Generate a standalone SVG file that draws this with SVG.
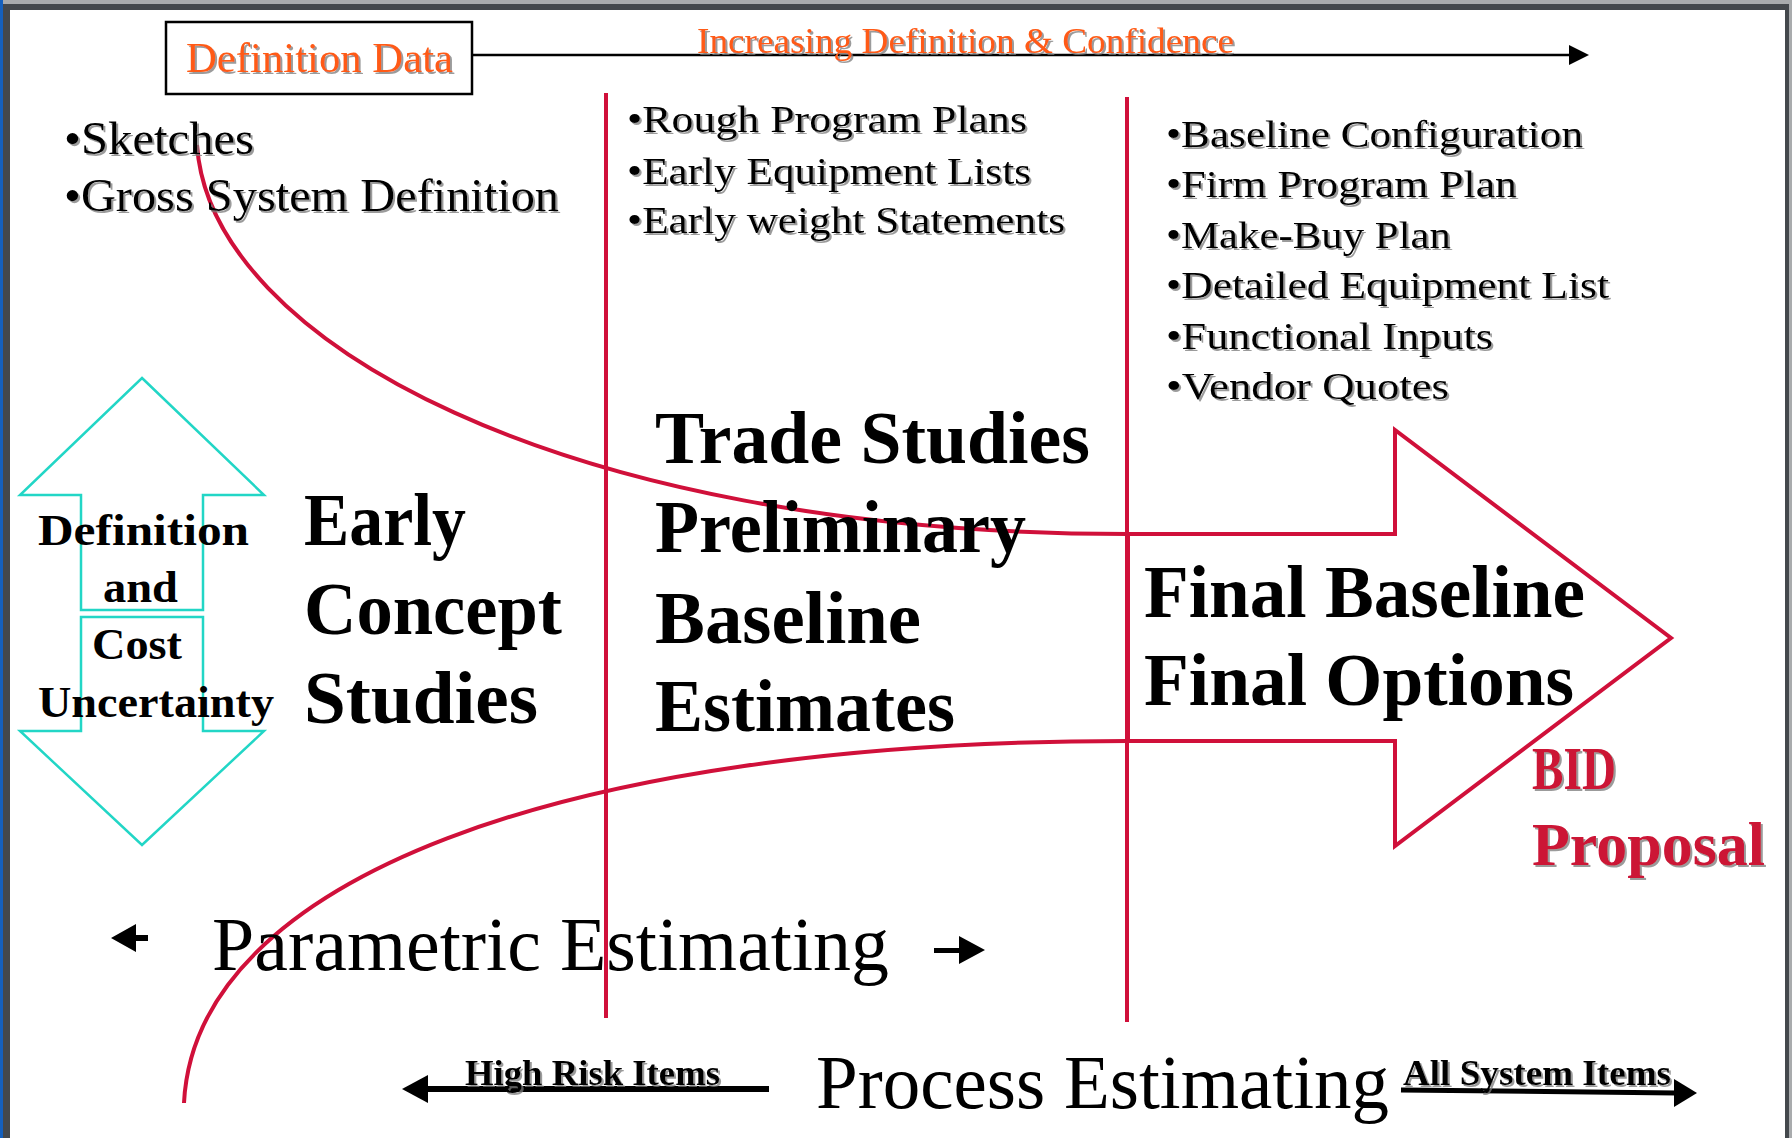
<svg xmlns="http://www.w3.org/2000/svg" width="1792" height="1138" viewBox="0 0 1792 1138">
<defs>
<filter id="sh" x="-5%" y="-20%" width="110%" height="150%"><feDropShadow dx="2" dy="2" stdDeviation="0.6" flood-color="#7a7a7a" flood-opacity="0.75"/></filter>
</defs>
<style>
text{font-family:"Liberation Serif","Times New Roman",serif;fill:#000}
.b{font-weight:bold}
.org{fill:#ff5a14}
.bid{fill:#cc1236;font-weight:bold}
.red{fill:none;stroke:#d0103a;stroke-width:4}
.cy{fill:none;stroke:#22d6c6;stroke-width:2.5}
.blk{fill:#000}
.lst{font-size:37px}
.big{font-size:73px;font-weight:bold}
</style>
<rect x="0" y="0" width="1792" height="1138" fill="#fff"/>
<g id="frame">
<rect x="0" y="0" width="1792" height="4" fill="#a9abad"/>
<rect x="3" y="4" width="1786" height="6" fill="#44484c"/>
<rect x="0" y="0" width="3" height="1138" fill="#1560bd"/>
<rect x="3" y="4" width="7" height="1134" fill="#44484c"/>
<rect x="1785" y="4" width="4" height="1134" fill="#44484c"/>
<rect x="1789" y="0" width="3" height="1138" fill="#a9abad"/>
</g>
<g id="connectors">
<line x1="472" y1="55" x2="1572" y2="55" stroke="#000" stroke-width="2.5"/>
<polygon class="blk" points="1589,55 1569,45 1569,65"/>
<line class="red" x1="606" y1="93" x2="606" y2="1018"/>
<line class="red" x1="1127" y1="97" x2="1127" y2="1022"/>
<path class="red" d="M197,145 C210,340 560,534 1128,534"/>
<path class="red" d="M184,1103 C195,880 560,741 1128,741"/>
<polygon class="blk" points="111,938 136,924 136,935 148,935 148,941 136,941 136,952"/>
<polygon class="blk" points="985,950 959,936 959,948 934,948 934,953 959,953 959,964"/>
<line x1="769" y1="1089" x2="425" y2="1089" stroke="#000" stroke-width="6"/>
<polygon class="blk" points="402,1089 428,1075 428,1103"/>
<line x1="1401" y1="1090" x2="1676" y2="1093" stroke="#000" stroke-width="5"/>
<polygon class="blk" points="1697,1093 1674,1079 1674,1107"/>
</g>
<g id="definition-data">
<rect x="166" y="22" width="306" height="72" fill="#fff" stroke="#000" stroke-width="2.5"/>
<text class="org" x="186" y="72" font-size="42" textLength="267" lengthAdjust="spacingAndGlyphs" filter="url(#sh)">Definition Data</text>
</g>
<g id="increasing-label">
<text class="org" x="697" y="53" font-size="35" textLength="537" lengthAdjust="spacingAndGlyphs" filter="url(#sh)">Increasing Definition &amp; Confidence</text>
</g>
<g id="list-early" filter="url(#sh)">
<text x="64" y="154" font-size="46" textLength="190" lengthAdjust="spacingAndGlyphs">•Sketches</text>
<text x="64" y="211" font-size="46" textLength="495" lengthAdjust="spacingAndGlyphs">•Gross System Definition</text>
</g>
<g id="list-mid" class="lst" filter="url(#sh)">
<text x="627" y="132" textLength="400" lengthAdjust="spacingAndGlyphs">•Rough Program Plans</text>
<text x="627" y="184" textLength="404" lengthAdjust="spacingAndGlyphs">•Early Equipment Lists</text>
<text x="627" y="233" textLength="438" lengthAdjust="spacingAndGlyphs">•Early weight Statements</text>
</g>
<g id="list-final" class="lst" filter="url(#sh)">
<text x="1166" y="147" textLength="417" lengthAdjust="spacingAndGlyphs">•Baseline Configuration</text>
<text x="1166" y="197" textLength="351" lengthAdjust="spacingAndGlyphs">•Firm Program Plan</text>
<text x="1166" y="248" textLength="285" lengthAdjust="spacingAndGlyphs">•Make-Buy Plan</text>
<text x="1166" y="298" textLength="443" lengthAdjust="spacingAndGlyphs">•Detailed Equipment List</text>
<text x="1166" y="349" textLength="327" lengthAdjust="spacingAndGlyphs">•Functional Inputs</text>
<text x="1166" y="399" textLength="283" lengthAdjust="spacingAndGlyphs">•Vendor Quotes</text>
</g>
<g id="uncertainty-arrow">
<polygon class="cy" points="142,378 264,495 203,495 203,610 81,610 81,495 20,495"/>
<polygon class="cy" points="81,617 203,617 203,731 264,731 142,845 20,731 81,731"/>
<text class="b" x="38" y="545" font-size="44" textLength="211" lengthAdjust="spacingAndGlyphs">Definition</text>
<text class="b" x="103" y="602" font-size="44" textLength="75" lengthAdjust="spacingAndGlyphs">and</text>
<text class="b" x="92" y="659" font-size="44" textLength="90" lengthAdjust="spacingAndGlyphs">Cost</text>
<text class="b" x="38" y="717" font-size="44" textLength="236" lengthAdjust="spacingAndGlyphs">Uncertainty</text>
</g>
<g id="early-concept" class="big">
<text x="304" y="545" textLength="162" lengthAdjust="spacingAndGlyphs">Early</text>
<text x="304" y="634" textLength="258" lengthAdjust="spacingAndGlyphs">Concept</text>
<text x="304" y="723" textLength="234" lengthAdjust="spacingAndGlyphs">Studies</text>
</g>
<g id="trade-studies" class="big">
<text x="655" y="463" textLength="435" lengthAdjust="spacingAndGlyphs">Trade Studies</text>
<text x="655" y="552" textLength="371" lengthAdjust="spacingAndGlyphs">Preliminary</text>
<text x="655" y="643" textLength="266" lengthAdjust="spacingAndGlyphs">Baseline</text>
<text x="655" y="731" textLength="300" lengthAdjust="spacingAndGlyphs">Estimates</text>
</g>
<g id="final-baseline">
<polygon class="red" points="1128,534 1395,534 1395,430 1671,638 1395,846 1395,741 1128,741"/>
<text class="big" x="1144" y="617" textLength="441" lengthAdjust="spacingAndGlyphs">Final Baseline</text>
<text class="big" x="1144" y="705" textLength="430" lengthAdjust="spacingAndGlyphs">Final Options</text>
</g>
<g id="bid-proposal" filter="url(#sh)">
<text class="bid" x="1532" y="789" font-size="62" textLength="84" lengthAdjust="spacingAndGlyphs">BID</text>
<text class="bid" x="1532" y="865" font-size="62" textLength="233" lengthAdjust="spacingAndGlyphs">Proposal</text>
</g>
<g id="parametric">
<text x="212" y="970" font-size="76" textLength="677" lengthAdjust="spacingAndGlyphs">Parametric Estimating</text>
</g>
<g id="process">
<text x="816" y="1108" font-size="76" textLength="573" lengthAdjust="spacingAndGlyphs">Process Estimating</text>
<text class="b" x="465" y="1085" font-size="36" textLength="255" lengthAdjust="spacingAndGlyphs" filter="url(#sh)">High Risk Items</text>
<text class="b" x="1403" y="1085" font-size="36" textLength="268" lengthAdjust="spacingAndGlyphs" filter="url(#sh)">All System Items</text>
</g>
</svg>
